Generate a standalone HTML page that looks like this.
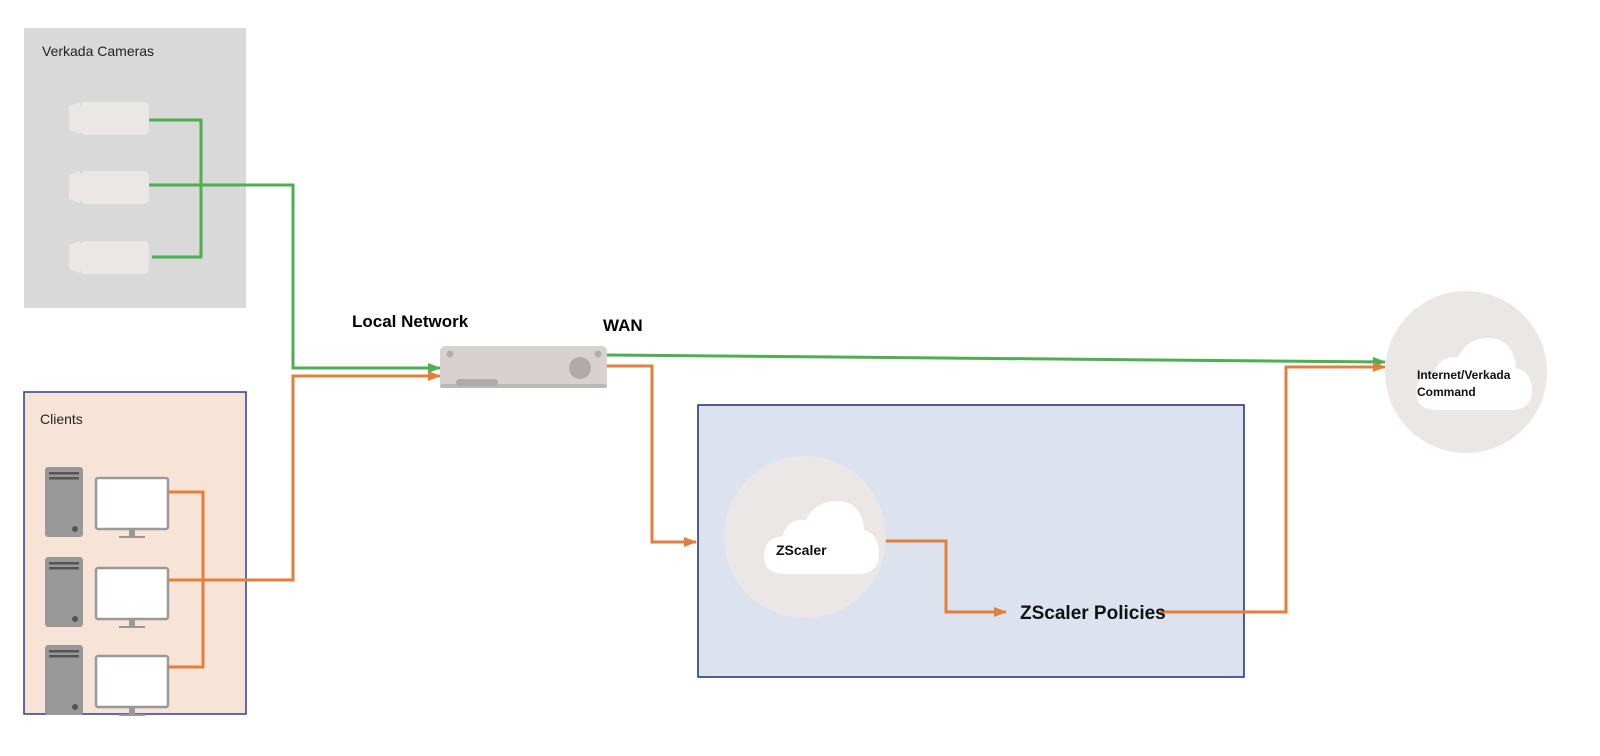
<!DOCTYPE html>
<html><head><style>body{margin:0;background:#fff}svg{display:block}text{font-family:"Liberation Sans",sans-serif}</style></head><body>
<svg width="1600" height="756" viewBox="0 0 1600 756" xmlns="http://www.w3.org/2000/svg">
<defs>
<marker id="ag" markerWidth="13" markerHeight="10" refX="12" refY="5" orient="auto" markerUnits="userSpaceOnUse"><path d="M0,0 L13,5 L0,10z" fill="#4caf50"/></marker>
<marker id="ao" markerWidth="13" markerHeight="10" refX="12" refY="5" orient="auto" markerUnits="userSpaceOnUse"><path d="M0,0 L13,5 L0,10z" fill="#e37f3c"/></marker>
<g id="cam"><path d="M69,4 L80,0 L80,32 L69,28z" fill="#ebe7e6"/><rect x="80" y="0" width="69" height="33" rx="5" fill="#ebe7e6"/></g>
<g id="pc"><rect x="45" y="0" width="38" height="70" rx="3" fill="#999"/><rect x="49" y="5" width="30" height="2.5" fill="#555"/><rect x="49" y="10" width="30" height="2.5" fill="#555"/><circle cx="75" cy="62" r="3" fill="#555"/>
<rect x="96" y="11" width="72" height="51" rx="2" fill="#fff" stroke="#999" stroke-width="2.5"/><rect x="129" y="62" width="6" height="8" fill="#999"/><rect x="119" y="69" width="26" height="2" fill="#999"/></g>
</defs>
<rect x="24" y="28" width="222" height="280" fill="#d9d9d9"/>
<text x="42" y="56" font-size="14" fill="#222">Verkada Cameras</text>
<use href="#cam" transform="translate(0,102)"/><use href="#cam" transform="translate(0,171)"/><use href="#cam" transform="translate(0,241)"/>
<rect x="24" y="392" width="222" height="322" fill="#f7e4d7" stroke="#2e3d8f" stroke-width="1.5"/>
<text x="40" y="424" font-size="14" fill="#222">Clients</text>
<use href="#pc" transform="translate(0,467)"/><use href="#pc" transform="translate(0,557)"/><use href="#pc" transform="translate(0,645)"/>
<rect x="698" y="405" width="546" height="272" fill="#dce3ef" stroke="#1f2a7a" stroke-width="1.5"/>
<g fill="none" stroke-width="3">
<path d="M149,120 H201 V257 H152" stroke="#4caf50"/>
<path d="M149,185 H293 V368 H440" stroke="#4caf50" marker-end="url(#ag)"/>
<path d="M607,355 L1385,362" stroke="#4caf50" marker-end="url(#ag)"/>
<path d="M168,492 H203 V667 H168" stroke="#e37f3c"/>
<path d="M168,580 H293 V376 H440" stroke="#e37f3c" marker-end="url(#ao)"/>
<path d="M607,366 H652 V542 H696" stroke="#e37f3c" marker-end="url(#ao)"/>
<path d="M884,541 H946 V612 H1006" stroke="#e37f3c" marker-end="url(#ao)"/>
<path d="M1160,612 H1286 V367 H1385" stroke="#e37f3c" marker-end="url(#ao)"/>
</g>
<rect x="440" y="346" width="167" height="42" rx="5" fill="#d7d2d0"/>
<rect x="440" y="384" width="167" height="4" rx="2" fill="#bdb8b6"/>
<circle cx="450" cy="354" r="3.5" fill="#b5b0ae"/><circle cx="598" cy="354" r="3.5" fill="#b5b0ae"/>
<circle cx="580" cy="368" r="11" fill="#b0abaa"/><rect x="456" y="379" width="42" height="7" rx="3.5" fill="#b0abaa"/>
<text x="352" y="327" font-size="17" font-weight="bold" fill="#000">Local Network</text>
<text x="603" y="331" font-size="17" font-weight="bold" fill="#000">WAN</text>
<circle cx="805" cy="537" r="81" fill="#ebe7e6"/>
<path d="M786,574 Q764,574 764,556 Q764,538 783,536 Q787,518 806,520 Q815,501 838,501 Q862,502 864,530 Q879,534 879,553 Q879,574 858,574z" fill="#fff"/>
<text x="776" y="555" font-size="14" font-weight="bold" fill="#111">ZScaler</text>
<text x="1020" y="619" font-size="19" font-weight="bold" fill="#111">ZScaler Policies</text>
<circle cx="1466" cy="372" r="81" fill="#ebe7e6"/>
<path d="M1438,410 Q1416,410 1416,392 Q1416,376 1434,374 Q1438,356 1458,357 Q1467,338 1490,338 Q1514,340 1516,368 Q1532,372 1532,391 Q1532,410 1510,410z" fill="#fff"/>
<text x="1417" y="379" font-size="12" font-weight="bold" fill="#111">Internet/Verkada</text>
<text x="1417" y="396" font-size="12" font-weight="bold" fill="#111">Command</text>
</svg>
</body></html>
